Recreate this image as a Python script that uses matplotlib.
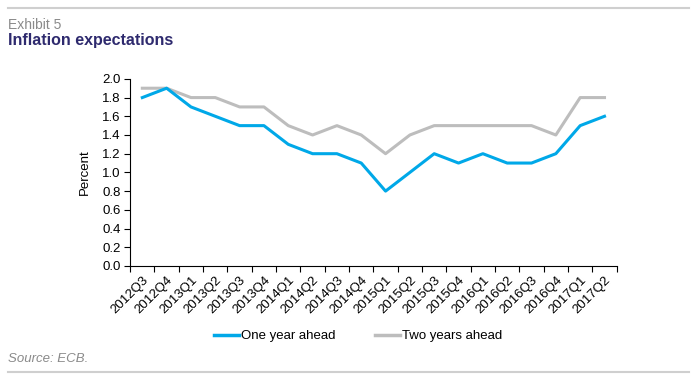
import matplotlib
matplotlib.use("Agg")
import matplotlib.pyplot as plt
from matplotlib.lines import Line2D

plt.rcParams['font.family'] = ['Liberation Sans', 'DejaVu Sans']

quarters = ["2012Q3", "2012Q4", "2013Q1", "2013Q2", "2013Q3", "2013Q4",
            "2014Q1", "2014Q2", "2014Q3", "2014Q4", "2015Q1", "2015Q2",
            "2015Q3", "2015Q4", "2016Q1", "2016Q2", "2016Q3", "2016Q4",
            "2017Q1", "2017Q2"]
one_year = [1.8, 1.9, 1.7, 1.6, 1.5, 1.5, 1.3, 1.2, 1.2, 1.1,
            0.8, 1.0, 1.2, 1.1, 1.2, 1.1, 1.1, 1.2, 1.5, 1.6]
two_years = [1.9, 1.9, 1.8, 1.8, 1.7, 1.7, 1.5, 1.4, 1.5, 1.4,
             1.2, 1.4, 1.5, 1.5, 1.5, 1.5, 1.5, 1.4, 1.8, 1.8]
y_ticks = [0.0, 0.2, 0.4, 0.6, 0.8, 1.0, 1.2, 1.4, 1.6, 1.8, 2.0]

blue = "#00A8E8"
grey = "#BDBDBD"

fig = plt.figure(figsize=(6.96, 3.81), dpi=100)
ax = fig.add_axes([0.187, 0.302, 0.699, 0.491])

x = list(range(len(quarters)))
ax.plot(x, two_years, color=grey, lw=2.2, zorder=2)
ax.plot(x, one_year, color=blue, lw=2.2, zorder=3)

ax.set_xlim(-0.5, len(quarters) - 0.5)
ax.set_ylim(0, 2.0)
ax.set_yticks(y_ticks)
ax.set_yticklabels(["%.1f" % v for v in y_ticks], fontsize=9.5)
ax.set_ylabel("Percent", fontsize=9.5, labelpad=8)

# category labels centred, tick marks at the boundaries
ax.set_xticks(x)
ax.set_xticklabels(quarters, rotation=45, ha="right", rotation_mode="anchor", fontsize=9.5)
ax.tick_params(axis="x", which="major", length=0, pad=6)
ax.set_xticks([i - 0.5 for i in range(len(quarters) + 1)], minor=True)
ax.tick_params(axis="x", which="minor", length=4, color="black", width=0.8)
ax.tick_params(axis="y", length=4, width=0.8, pad=3)

for s in ["top", "right"]:
    ax.spines[s].set_visible(False)
ax.spines["left"].set_linewidth(0.8)
ax.spines["bottom"].set_linewidth(0.8)

handles = [Line2D([], [], color=blue, lw=2.5), Line2D([], [], color=grey, lw=2.5)]
fig.legend(handles, ["One year ahead", "Two years ahead"], loc="center",
           bbox_to_anchor=(0.515, 0.118), ncol=2, frameon=False, fontsize=9.5,
           handlelength=1.9, handletextpad=0.15, columnspacing=3.0)

# header and footer
fig.add_artist(Line2D([0.012, 0.99], [0.978, 0.978], color="#CFCFCF", lw=1.5))
fig.text(0.012, 0.935, "Exhibit 5", fontsize=10, color="#8A8A8A", va="center")
fig.text(0.012, 0.895, "Inflation expectations", fontsize=11.5, color="#2E2A6E",
         fontweight="bold", va="center")
fig.text(0.012, 0.058, "Source: ECB.", fontsize=9.5, color="#8A8A8A",
         style="italic", va="center")
fig.add_artist(Line2D([0.012, 0.99], [0.024, 0.024], color="#CFCFCF", lw=1.5))

fig.savefig("out.png", dpi=100)
